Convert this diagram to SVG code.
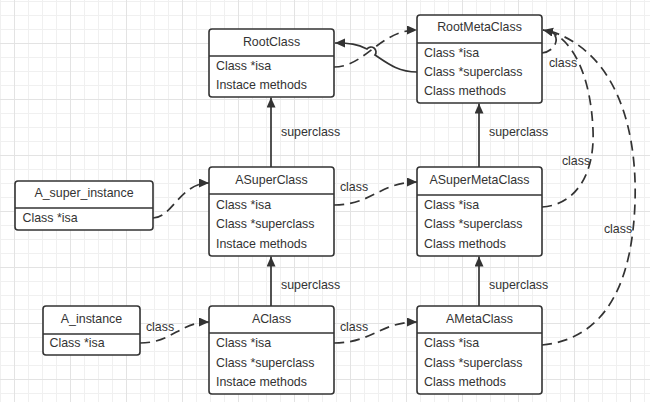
<svg xmlns="http://www.w3.org/2000/svg" width="650" height="402" viewBox="0 0 650 402">
<defs>
<pattern id="grid" patternUnits="userSpaceOnUse" x="14" y="43" width="56" height="56">
<rect width="56" height="56" fill="#fff"/>
<g fill="#f0f0f0">
<rect x="14" y="0" width="1" height="56"/><rect x="28" y="0" width="1" height="56"/><rect x="42" y="0" width="1" height="56"/>
<rect x="0" y="14" width="56" height="1"/><rect x="0" y="28" width="56" height="1"/><rect x="0" y="42" width="56" height="1"/>
</g>
<g fill="#e3e3e3"><rect x="0" y="0" width="1" height="56"/><rect x="0" y="0" width="56" height="1"/></g>
</pattern>
<marker id="arr" markerUnits="userSpaceOnUse" markerWidth="11" markerHeight="10" refX="10" refY="4.5" orient="auto">
<path d="M0,0 L10,4.5 L0,9 z" fill="#333"/>
</marker>
<style>
.box{fill:#fff;stroke:#333;stroke-width:1.6}
.div{stroke:#333;stroke-width:1.6}
.t{font-family:"Liberation Sans",Arial,sans-serif;font-size:12.4px;fill:#333}
.c{text-anchor:middle}
.solid{fill:none;stroke:#333;stroke-width:1.7}
.dash{fill:none;stroke:#333;stroke-width:1.7;stroke-dasharray:10 6}
</style>
</defs>
<rect width="650" height="402" fill="url(#grid)"/>

<g id="connectors">
<line class="solid" x1="271" y1="306" x2="271" y2="256.5" marker-end="url(#arr)"/>
<line class="solid" x1="271" y1="167" x2="271" y2="97.5" marker-end="url(#arr)"/>
<line class="solid" x1="479" y1="306" x2="479" y2="256.5" marker-end="url(#arr)"/>
<line class="solid" x1="479" y1="167" x2="479" y2="103.5" marker-end="url(#arr)"/>
<path class="solid" d="M417,72 C398,72 387,63 375,55 A4.5,4.5 0 0 0 367,49 C357,44 350,43 335,43" marker-end="url(#arr)"/>
<path class="dash" d="M334,67 C365,67 380,30 417,30" marker-end="url(#arr)"/>
<path class="dash" d="M153,218 C172,218 180,183 209,183" marker-end="url(#arr)"/>
<path class="dash" d="M334,205 C372,205 380,182 417,182" marker-end="url(#arr)"/>
<path class="dash" d="M140,343 C172,343 180,322 209,322" marker-end="url(#arr)"/>
<path class="dash" d="M334,343 C372,343 380,322 417,322" marker-end="url(#arr)"/>
<path class="dash" d="M542,53 C556,51 560,38 552,32 L543,30" marker-end="url(#arr)"/>
<path class="dash" d="M542,207 C575,205 595,175 593,130 C591,80 575,40 548,31 L543,30"/>
<path class="dash" d="M542,345 C595,340 625,300 633,230 C642,150 625,55 550,31 L543,30"/>
<text class="t" x="281" y="136.4">superclass</text>
<text class="t" x="281" y="289.4">superclass</text>
<text class="t" x="489" y="136.4">superclass</text>
<text class="t" x="489" y="289.4">superclass</text>
<text class="t c" x="354" y="191.4">class</text>
<text class="t c" x="160" y="331.4">class</text>
<text class="t c" x="354" y="331.4">class</text>
<text class="t c" x="563" y="67.4">class</text>
<text class="t c" x="576" y="165.4">class</text>
<text class="t c" x="618" y="233.4">class</text>
</g>

<g id="RootClass">
<rect class="box" x="209" y="29" width="125" height="68" rx="3"/>
<line class="div" x1="209" y1="56" x2="334" y2="56"/>
<text class="t c" x="271.5" y="46">RootClass</text>
<text class="t" x="216" y="70.4">Class *isa</text>
<text class="t" x="216" y="89.4">Instace methods</text>
</g>

<g id="RootMetaClass">
<rect class="box" x="417" y="15" width="125" height="88" rx="3"/>
<line class="div" x1="417" y1="43" x2="542" y2="43"/>
<text class="t c" x="479.5" y="31">RootMetaClass</text>
<text class="t" x="424" y="57">Class *isa</text>
<text class="t" x="424" y="76.4">Class *superclass</text>
<text class="t" x="424" y="95.4">Class methods</text>
</g>

<g id="A_super_instance">
<rect class="box" x="15" y="181" width="138" height="49" rx="3"/>
<line class="div" x1="15" y1="208" x2="153" y2="208"/>
<text class="t c" x="84" y="197.4">A_super_instance</text>
<text class="t" x="22.5" y="222.4">Class *isa</text>
</g>

<g id="ASuperClass">
<rect class="box" x="209" y="167" width="125" height="89" rx="3"/>
<line class="div" x1="209" y1="194" x2="334" y2="194"/>
<text class="t c" x="271.5" y="184.4">ASuperClass</text>
<text class="t" x="216" y="208.7">Class *isa</text>
<text class="t" x="216" y="228.4">Class *superclass</text>
<text class="t" x="216" y="247.7">Instace methods</text>
</g>

<g id="ASuperMetaClass">
<rect class="box" x="417" y="167" width="125" height="89" rx="3"/>
<line class="div" x1="417" y1="195" x2="542" y2="195"/>
<text class="t c" x="479.5" y="184.4">ASuperMetaClass</text>
<text class="t" x="424" y="208.7">Class *isa</text>
<text class="t" x="424" y="228.4">Class *superclass</text>
<text class="t" x="424" y="247.7">Class methods</text>
</g>

<g id="A_instance">
<rect class="box" x="43" y="306" width="97" height="49" rx="3"/>
<line class="div" x1="43" y1="334" x2="140" y2="334"/>
<text class="t c" x="91.5" y="323.4">A_instance</text>
<text class="t" x="49.5" y="347.4">Class *isa</text>
</g>

<g id="AClass">
<rect class="box" x="209" y="306" width="125" height="88" rx="3"/>
<line class="div" x1="209" y1="333" x2="334" y2="333"/>
<text class="t c" x="271.5" y="323.4">AClass</text>
<text class="t" x="216" y="347.4">Class *isa</text>
<text class="t" x="216" y="367.4">Class *superclass</text>
<text class="t" x="216" y="386.4">Instace methods</text>
</g>

<g id="AMetaClass">
<rect class="box" x="417" y="306" width="125" height="88" rx="3"/>
<line class="div" x1="417" y1="333" x2="542" y2="333"/>
<text class="t c" x="479.5" y="323.4">AMetaClass</text>
<text class="t" x="424" y="347.4">Class *isa</text>
<text class="t" x="424" y="367.4">Class *superclass</text>
<text class="t" x="424" y="386.4">Class methods</text>
</g>
</svg>
